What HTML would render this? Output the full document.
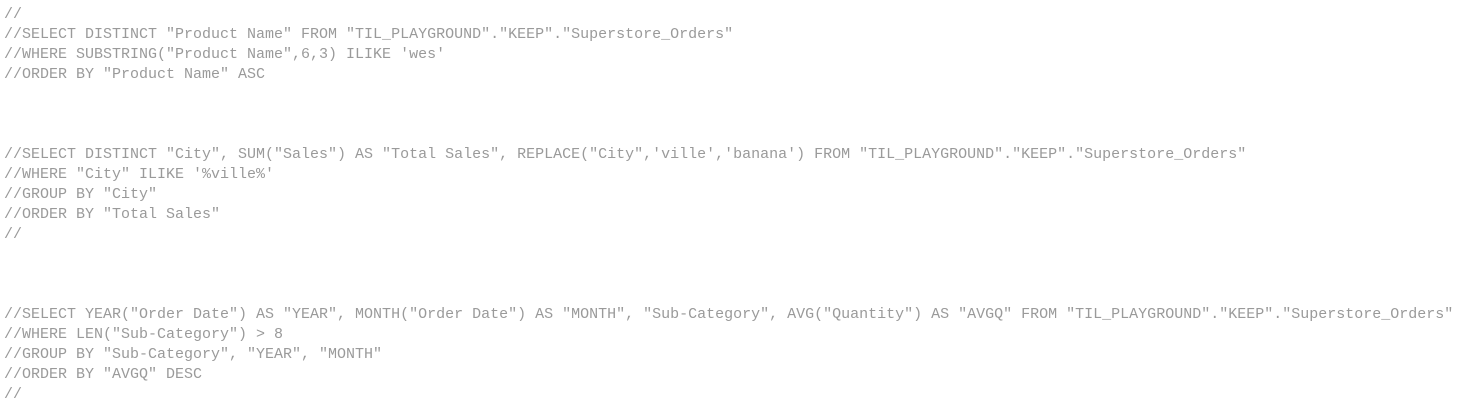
<!DOCTYPE html>
<html><head><meta charset="utf-8"><style>
html,body{margin:0;padding:0;background:#fff;width:1478px;height:410px;overflow:hidden}
pre{margin:0;padding:5px 0 0 4px;font-family:"Liberation Mono",monospace;font-size:15px;line-height:20px;color:#9a9a9a;white-space:pre}
</style></head><body><pre>//
//SELECT DISTINCT "Product Name" FROM "TIL_PLAYGROUND"."KEEP"."Superstore_Orders"
//WHERE SUBSTRING("Product Name",6,3) ILIKE 'wes'
//ORDER BY "Product Name" ASC



//SELECT DISTINCT "City", SUM("Sales") AS "Total Sales", REPLACE("City",'ville','banana') FROM "TIL_PLAYGROUND"."KEEP"."Superstore_Orders"
//WHERE "City" ILIKE '%ville%'
//GROUP BY "City"
//ORDER BY "Total Sales"
//



//SELECT YEAR("Order Date") AS "YEAR", MONTH("Order Date") AS "MONTH", "Sub-Category", AVG("Quantity") AS "AVGQ" FROM "TIL_PLAYGROUND"."KEEP"."Superstore_Orders"
//WHERE LEN("Sub-Category") &gt; 8
//GROUP BY "Sub-Category", "YEAR", "MONTH"
//ORDER BY "AVGQ" DESC
//</pre></body></html>
